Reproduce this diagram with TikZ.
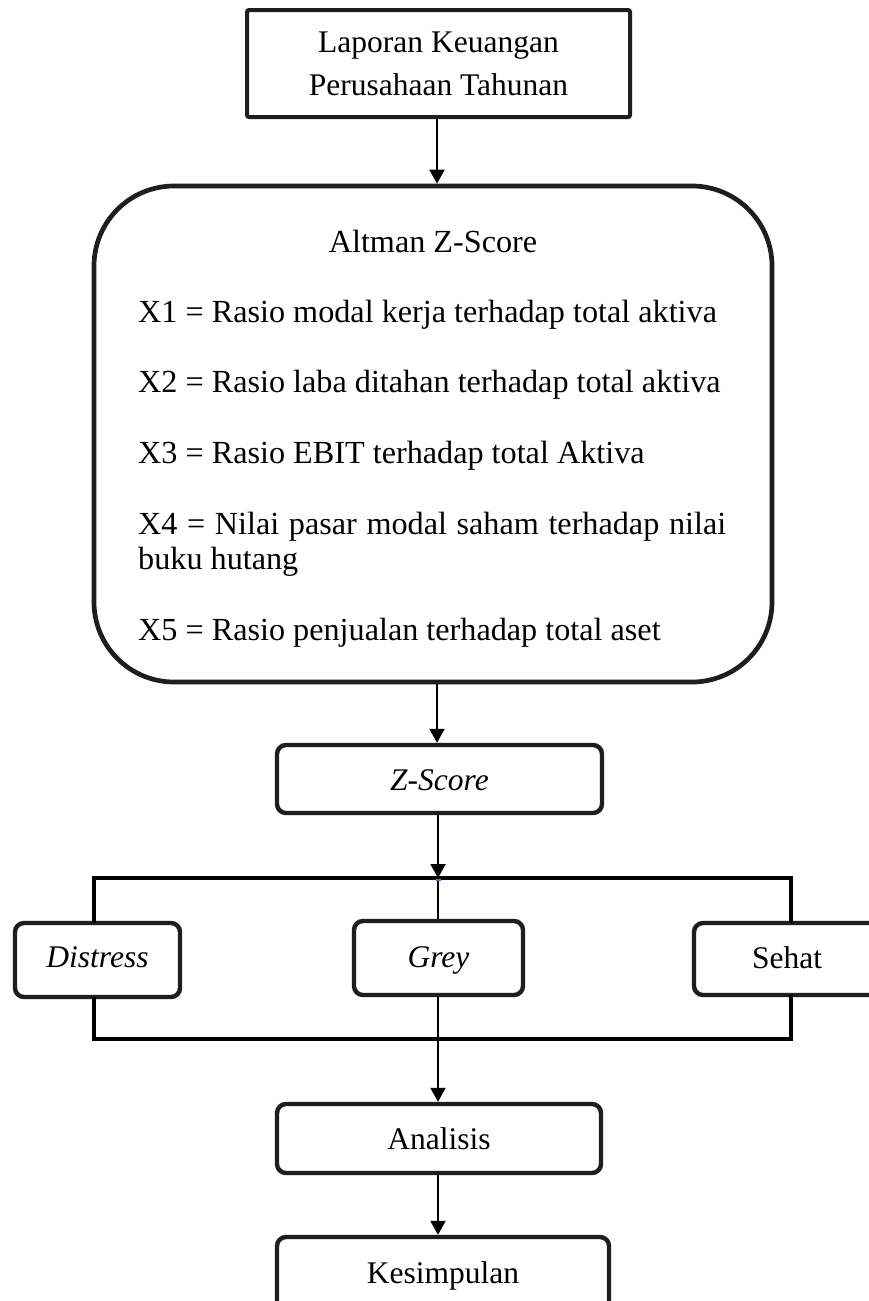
\documentclass[tikz,border=0pt]{standalone}
\usepackage{fontspec}
\setmainfont{Liberation Serif}
\usetikzlibrary{arrows.meta}
\newcommand\txtsize{\fontsize{31.5pt}{38pt}\selectfont}
\newcommand\bigtxtsize{\fontsize{32.2pt}{38pt}\selectfont}
\definecolor{boxcol}{RGB}{30,30,30}
\definecolor{markblue}{RGB}{70,120,190}
\tikzset{
  box/.style={draw=boxcol, line width=4.4pt, rounded corners=9pt, inner sep=0pt, fill=white},
  txt/.style={inner sep=0pt, font=\txtsize, anchor=base},
  ltxt/.style={inner sep=0pt, font=\bigtxtsize, anchor=base west},
  arr/.style={draw=black, line width=2pt, -{Triangle[length=14pt,width=15pt]}},
  thin/.style={draw=black, line width=1.6pt},
  frame/.style={draw=black, line width=4.2pt, line cap=rect}
}
\begin{document}
\begin{tikzpicture}[x=1pt,y=-1pt]
\clip (0,0) rectangle (869,1301);
\fill[white] (0,0) rectangle (869,1301);

% top box
\node[box, rounded corners=2pt, line width=4pt, minimum width=383pt, minimum height=107pt] (lap) at (438.5,63.5) {};
\node[txt] (lap1) at (438.5,52) {Laporan Keuangan};
\node[txt] (lap2) at (438.5,95) {Perusahaan Tahunan};

% Altman box
\node[box, rounded corners=80pt, line width=4.7pt, minimum width=678pt, minimum height=496pt] (alt) at (433,434) {};
\node[txt, font=\bigtxtsize] (alttitle) at (433,252) {Altman Z-Score};
\node[ltxt] (x1) at (138,322) {X1 = Rasio modal kerja terhadap total aktiva};
\node[ltxt] (x2) at (138,392) {X2 = Rasio laba ditahan terhadap total aktiva};
\node[ltxt] (x3) at (138,463) {X3 = Rasio EBIT terhadap total Aktiva};
\node[ltxt] (x4) at (138,534) {\makebox[588pt][s]{X4 = Nilai pasar modal saham terhadap nilai}};
\node[ltxt] (x4b) at (138,569) {buku hutang};
\node[ltxt] (x5) at (138,640) {X5 = Rasio penjualan terhadap total aset};

% Z-Score
\node[box, minimum width=325pt, minimum height=68pt] (zs) at (439.5,779) {};
\node[txt] (zst) at (439.5,790) {\itshape Z-Score};

% category frame
\coordinate (tl) at (94,878);
\coordinate (tr) at (791,878);
\coordinate (bl) at (94,1039);
\coordinate (br) at (791,1039);
\coordinate (mid) at (438,878);

\node[box, minimum width=165pt, minimum height=74pt] (dis) at (97.5,960) {};
\node[txt] (dist) at (97.5,967) {\itshape Distress};
\node[box, minimum width=169pt, minimum height=74pt] (grey) at (438.5,958) {};
\node[txt] (greyt) at (438.5,967) {\itshape Grey};
\node[box, minimum width=186pt, minimum height=72pt] (seh) at (787,959) {};
\node[txt] (seht) at (787,968) {Sehat};

\draw[frame] (dis.north -| tl) -- (tl) -- (tr) -- (seh.north -| tr);
\draw[frame] (dis.south -| bl) -- (bl) -- (br) -- (seh.south -| br);

% Analisis, Kesimpulan
\node[box, minimum width=324pt, minimum height=69pt] (ana) at (439,1138.5) {};
\node[txt] (anat) at (439,1149) {Analisis};
\node[box, minimum width=332pt, minimum height=74pt] (kes) at (443,1274) {};
\node[txt] (kest) at (443,1283) {Kesimpulan};

% connectors
\draw[arr] (lap.south -| 437,0) -- (alt.north -| 437,0);
\draw[arr] (alt.south -| 437,0) -- (zs.north -| 437,0);
\draw[arr] (zs.south -| mid) -- (mid);
\draw[thin] (mid) -- (grey.north -| mid);
\draw[arr] (grey.south -| mid) -- (ana.north -| mid);
\draw[arr] (ana.south -| mid) -- (kes.north -| mid);
\fill[markblue] (435.5,878.8) rectangle (441,880.6);
\end{tikzpicture}
\end{document}
